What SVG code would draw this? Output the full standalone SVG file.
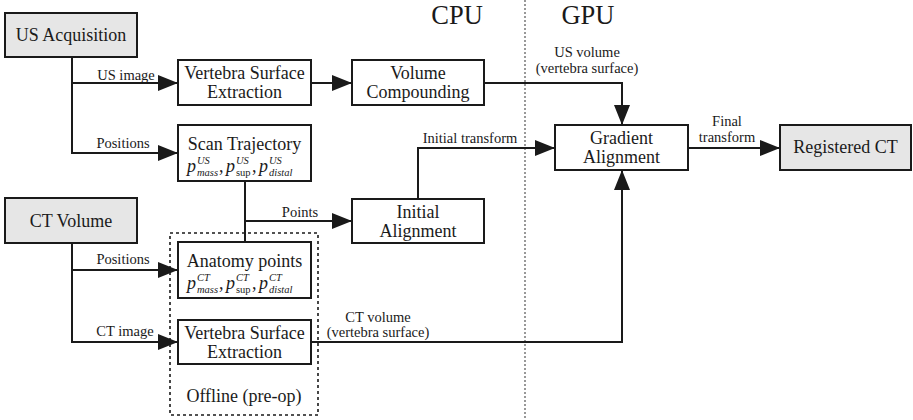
<svg xmlns="http://www.w3.org/2000/svg" width="913" height="420" viewBox="0 0 913 420">
<style>
text{font-family:"Liberation Serif","Times New Roman",serif;fill:#1a1a1a}
.box{fill:#fff;stroke:#1a1a1a;stroke-width:2}
.gray{fill:#e6e6e6}
.n{font-size:18px;text-anchor:middle}
.lb{font-size:14.5px;text-anchor:middle}
.big{font-size:26.5px;text-anchor:middle}
.c{fill:none;stroke:#1a1a1a;stroke-width:2}
.it{font-style:italic}
.sm{font-size:10.5px}
</style>
<defs>
<marker id="ah" markerUnits="userSpaceOnUse" markerWidth="20" markerHeight="16" refX="20" refY="8" orient="auto">
<path d="M0,0 L20,8 L0,16 z" fill="#1a1a1a"/>
</marker>
</defs>
<line x1="525" y1="0" x2="525" y2="420" stroke="#555" stroke-width="1.2" stroke-dasharray="2 2"/>
<text class="big" x="457" y="24">CPU</text>
<text class="big" x="588" y="24">GPU</text>
<g id="offline">
<rect x="170" y="233" width="148" height="182" fill="none" stroke="#1a1a1a" stroke-width="1.6" stroke-dasharray="3 3"/>
<text class="n" x="244" y="402">Offline (pre-op)</text>
</g>
<g id="connectors">
<path class="c" d="M72,57 V153 H178" marker-end="url(#ah)"/>
<path class="c" d="M72,83 H178" marker-end="url(#ah)"/>
<path class="c" d="M311,83 H352" marker-end="url(#ah)"/>
<path class="c" d="M484,83 H622 V125" marker-end="url(#ah)"/>
<path class="c" d="M245,181 V242"/>
<path class="c" d="M245,221 H352" marker-end="url(#ah)"/>
<path class="c" d="M418,199 V148 H555" marker-end="url(#ah)"/>
<path class="c" d="M688,148 H780" marker-end="url(#ah)"/>
<path class="c" d="M72,243 V342 H178" marker-end="url(#ah)"/>
<path class="c" d="M72,270 H178" marker-end="url(#ah)"/>
<path class="c" d="M311,342 H622 V170" marker-end="url(#ah)"/>
<text class="lb" x="126" y="80">US image</text>
<text class="lb" x="123" y="148">Positions</text>
<text class="lb" x="300" y="217">Points</text>
<text class="lb" x="470" y="143">Initial transform</text>
<text class="lb" x="587" y="57">US volume</text>
<text class="lb" x="587" y="73">(vertebra surface)</text>
<text class="lb" x="727" y="126">Final</text>
<text class="lb" x="727" y="142">transform</text>
<text class="lb" x="123" y="264">Positions</text>
<text class="lb" x="125" y="336">CT image</text>
<text class="lb" x="378" y="322">CT volume</text>
<text class="lb" x="378" y="337">(vertebra surface)</text>
</g>
<g id="us-acquisition">
<rect class="box gray" x="5" y="13" width="132" height="44"/>
<text class="n" x="71" y="41">US Acquisition</text>
</g>
<g id="vse-us">
<rect class="box" x="178" y="60" width="133" height="45"/>
<text class="n" x="244.5" y="79">Vertebra Surface</text>
<text class="n" x="244.5" y="98">Extraction</text>
</g>
<g id="volume-compounding">
<rect class="box" x="352" y="60" width="132" height="45"/>
<text class="n" x="418" y="79">Volume</text>
<text class="n" x="418" y="98">Compounding</text>
</g>
<g id="scan-trajectory">
<rect class="box" x="178" y="125" width="133" height="56"/>
<text class="n" x="244.5" y="150">Scan Trajectory</text>
<text style="font-size:18px"><tspan class="it" x="187" y="172">p</tspan><tspan class="sm it" x="197" y="164">US</tspan><tspan class="sm it" x="197" y="176">mass</tspan><tspan x="219" y="172">,</tspan><tspan class="it" x="226" y="172">p</tspan><tspan class="sm it" x="236" y="164">US</tspan><tspan class="sm" x="236" y="176">sup</tspan><tspan x="252" y="172">,</tspan><tspan class="it" x="259" y="172">p</tspan><tspan class="sm it" x="269" y="164">US</tspan><tspan class="sm it" x="269" y="176">distal</tspan></text>
</g>
<g id="initial-alignment">
<rect class="box" x="352" y="199" width="132" height="44"/>
<text class="n" x="418" y="218">Initial</text>
<text class="n" x="418" y="237">Alignment</text>
</g>
<g id="gradient-alignment">
<rect class="box" x="555" y="125" width="133" height="45"/>
<text class="n" x="621.5" y="144">Gradient</text>
<text class="n" x="621.5" y="163">Alignment</text>
</g>
<g id="registered-ct">
<rect class="box gray" x="780" y="125" width="131" height="45"/>
<text class="n" x="845.5" y="153">Registered CT</text>
</g>
<g id="ct-volume">
<rect class="box gray" x="5" y="198" width="132" height="45"/>
<text class="n" x="71" y="227">CT Volume</text>
</g>
<g id="anatomy-points">
<rect class="box" x="178" y="242" width="133" height="56"/>
<text class="n" x="244.5" y="267">Anatomy points</text>
<text style="font-size:18px"><tspan class="it" x="187" y="289">p</tspan><tspan class="sm it" x="197" y="281">CT</tspan><tspan class="sm it" x="197" y="293">mass</tspan><tspan x="219" y="289">,</tspan><tspan class="it" x="226" y="289">p</tspan><tspan class="sm it" x="236" y="281">CT</tspan><tspan class="sm" x="236" y="293">sup</tspan><tspan x="252" y="289">,</tspan><tspan class="it" x="259" y="289">p</tspan><tspan class="sm it" x="269" y="281">CT</tspan><tspan class="sm it" x="269" y="293">distal</tspan></text>
</g>
<g id="vse-ct">
<rect class="box" x="178" y="320" width="133" height="44"/>
<text class="n" x="244.5" y="339">Vertebra Surface</text>
<text class="n" x="244.5" y="358">Extraction</text>
</g>
</svg>
